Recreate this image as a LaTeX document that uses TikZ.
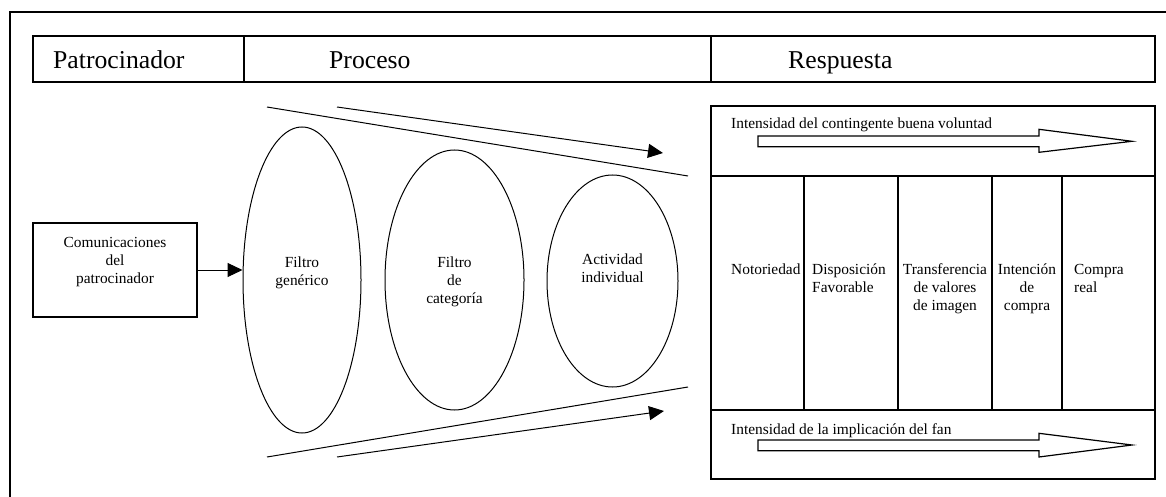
\documentclass[tikz,border=0pt]{standalone}
\usepackage{fontspec}
\setmainfont{Liberation Serif}
\usetikzlibrary{arrows.meta,shapes.geometric}
% strut giving every text line the same height and depth (18pt line pitch)
\newcommand\mystrut{\rule[-5pt]{0pt}{18pt}}

\begin{document}
\begin{tikzpicture}[x=1pt,y=-1pt,
  frame/.style={line width=1.3pt},
  small/.style={font=\fontsize{15.4}{18}\selectfont, inner sep=0pt},
  lines/.style={small, anchor=north, align=center},
  headtext/.style={font=\fontsize{25.7}{30}\selectfont, inner sep=0pt, anchor=base west},
  filter/.style={draw, ellipse, line width=1pt, inner sep=0pt},
  flow/.style={line width=1pt, -{Triangle[length=15pt,width=14pt]}},
  funnel/.style={line width=1pt},
  blockarrow/.style={draw, line width=1.2pt, line join=miter}
]
\useasboundingbox (0,0) rectangle (1166,497);

% outer frame (runs past the page on the right and at the bottom)
\draw[frame] (10,520) -- (10,12) -- (1190,12);

% header row
\draw[frame] (33,36) rectangle (1155,82);
\draw[frame] (244,36) -- (244,82);
\draw[frame] (711,36) -- (711,82);
\node[headtext] (hpat)  at (53,69)  {Patrocinador};
\node[headtext] (hproc) at (329,69) {Proceso};
\node[headtext] (hresp) at (788,69) {Respuesta};

% sponsor communications
\node[draw, line width=1.3pt, minimum width=164pt, minimum height=94pt, inner sep=0pt]
  (comm) at (115,270) {};
\node[lines] (commtext) at (115,234)
  {\mystrut Comunicaciones\\\mystrut del\\\mystrut patrocinador};

% filters
\node[filter, minimum width=118pt, minimum height=306pt] (e1) at (302,280) {};
\node[filter, minimum width=139pt, minimum height=260pt] (e2) at (454.5,280) {};
\node[filter, minimum width=131pt, minimum height=212pt] (e3) at (612.5,281) {};
\node[lines] (e1text) at (302,254) {\mystrut Filtro\\\mystrut genérico};
\node[lines] (e2text) at (454.5,254) {\mystrut Filtro\\\mystrut de\\\mystrut categoría};
\node[lines] (e3text) at (612.5,251) {\mystrut Actividad\\\mystrut individual};

\draw[flow] (comm.east) -- (e1.west |- comm.east);

% funnel
\coordinate (ft0) at (267,107);
\coordinate (ft1) at (688,176);
\coordinate (fb0) at (267,457);
\coordinate (fb1) at (688,387);
\coordinate (at0) at (337,107);
\coordinate (at1) at (663,153);
\coordinate (ab0) at (337,457);
\coordinate (ab1) at (664,411);
\draw[funnel] (ft0) -- (ft1);
\draw[funnel] (fb0) -- (fb1);
\draw[flow] (at0) -- (at1);
\draw[flow] (ab0) -- (ab1);

% response panel
\draw[frame] (711,106) rectangle (1155,479);
\draw[frame] (711,176) -- (1155,176);
\draw[frame] (711,410) -- (1155,410);
\foreach \cx in {804,898,992,1062}
  \draw[frame] (\cx,176) -- (\cx,410);

\node[small, anchor=base west] (goodwill) at (731,129)
  {Intensidad del contingente buena voluntad};
\draw[blockarrow] (758,136) -- (1039,136) -- (1039,129.3) -- (1132,141.3)
  -- (1039,152.3) -- (1039,146.7) -- (758,146.7) -- cycle;

\node[small, anchor=base west] (fan) at (731,434)
  {Intensidad de la implicación del fan};
\draw[blockarrow] (758,440) -- (1039,440) -- (1039,433.3) -- (1132,445)
  -- (1039,457) -- (1039,450.7) -- (758,450.7) -- cycle;

% response stages
\node[small, anchor=base west] (s1) at (731,274) {Notoriedad};
\node[small, anchor=north west, align=left] (s2) at (812,261)
  {\mystrut Disposición\\\mystrut Favorable};
\node[lines] (s3) at (945,261)
  {\mystrut Transferencia\\\mystrut de valores\\\mystrut de imagen};
\node[lines] (s4) at (1027,261)
  {\mystrut Intención\\\mystrut de\\\mystrut compra};
\node[small, anchor=north west, align=left] (s5) at (1074,261)
  {\mystrut Compra\\\mystrut real};
\end{tikzpicture}
\end{document}
